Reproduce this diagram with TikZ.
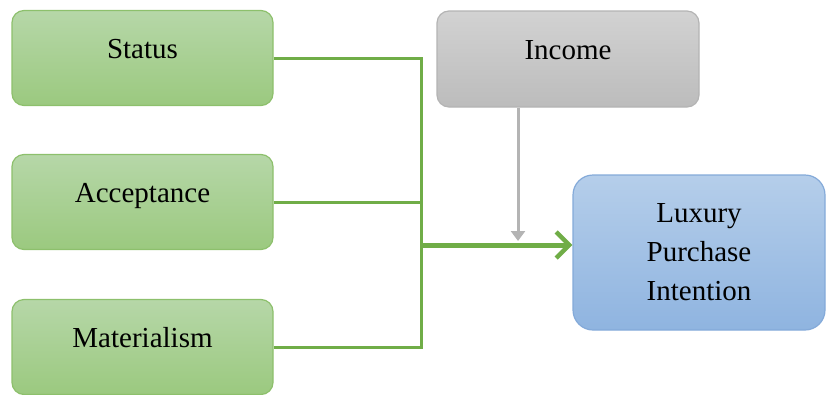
\documentclass[tikz,border=0pt]{standalone}
\usepackage{fontspec}
\setmainfont{Liberation Serif}
\usetikzlibrary{arrows.meta}

\definecolor{grtop}{HTML}{B6D7A8}
\definecolor{grbot}{HTML}{9BC97F}
\definecolor{grline}{HTML}{8DC06C}
\definecolor{grlink}{HTML}{70AD47}
\definecolor{gytop}{HTML}{D2D2D2}
\definecolor{gybot}{HTML}{BCBCBC}
\definecolor{gyline}{HTML}{B4B4B4}
\definecolor{bltop}{HTML}{B5CEEA}
\definecolor{blbot}{HTML}{8FB4E0}
\definecolor{blline}{HTML}{84AAD9}

\begin{document}
\begin{tikzpicture}[x=1pt,y=-1pt,
    box/.style={rectangle,rounded corners=12pt,line width=1.2pt,
      minimum width=261pt,minimum height=95pt,
      font=\fontsize{29}{39}\selectfont,text height=20pt,text depth=20pt},
    factor/.style={box,draw=grline,top color=grtop,bottom color=grbot},
    link/.style={draw=grlink,line width=3pt},
    mainarrow/.style={draw=grlink,line width=5pt,
      -{Straight Barb[length=13pt,width=26pt,line width=4.5pt]}},
    incarrow/.style={draw=gyline,line width=3pt,
      -{Triangle[length=10pt,width=14pt]}}]

    \useasboundingbox (0,0) rectangle (826,394);

    % Place factor boxes
    \node[factor] (status) at (142.5,58)  {Status};
    \node[factor] (accept) at (142.5,202) {Acceptance};
    \node[factor] (mater)  at (142.5,347) {Materialism};

    % Moderator and outcome
    \node[box,draw=gyline,top color=gytop,bottom color=gybot,minimum width=262pt,minimum height=96pt]
      (income) at (568,59) {Income};
    \node[box,draw=blline,top color=bltop,bottom color=blbot,rounded corners=20pt,
      minimum width=252pt,minimum height=155pt,align=center,text height=,text depth=]
      (lpi) at (699,252.5) {Luxury\\Purchase\\Intention};

    % Junction points
    \coordinate (hub)  at (421,245);
    \coordinate (drop) at (518,241);

    % Factors joined into one arrow
    \foreach \u in {status,accept,mater} {
      \draw[link] (\u.east) -| (hub);
    }
    \draw[mainarrow] (hub) -- (hub -| lpi.west);
    \draw[incarrow] (income.south -| drop) -- (drop);

  \end{tikzpicture}
\end{document}
